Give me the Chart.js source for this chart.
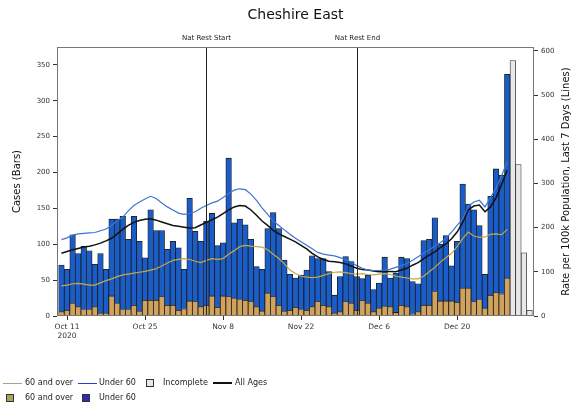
<!DOCTYPE html>
<html>
<head>
<meta charset="utf-8">
<script src="https://cdn.jsdelivr.net/npm/chart.js@4.4.1/dist/chart.umd.min.js"></script>
<style>
html,body{margin:0;padding:0;background:#fff;}
#wrap{position:relative;width:573px;height:408px;overflow:hidden;}
#c{position:absolute;left:0;top:0;}
.lt{position:absolute;font:8px "DejaVu Sans",sans-serif;color:#222;white-space:nowrap;line-height:10px;}
.ll{position:absolute;height:0;}
.lb{position:absolute;box-sizing:border-box;border:1px solid #333;}
</style>
</head>
<body>
<div id="wrap">
<canvas id="c" width="573" height="408"></canvas>
<div class="ll" style="left:3px;top:383px;width:19px;border-top:1px solid #a8a08a;"></div>
<div class="lt" style="left:25px;top:378px;">60 and over</div>
<div class="ll" style="left:78px;top:383px;width:19px;border-top:1px solid #2a3cd8;"></div>
<div class="lt" style="left:99px;top:378px;">Under 60</div>
<div class="lb" style="left:146px;top:379px;width:8px;height:8px;background:#e8e8e8;"></div>
<div class="lt" style="left:163px;top:378px;">Incomplete</div>
<div class="ll" style="left:213px;top:382px;width:19px;border-top:2px solid #111;"></div>
<div class="lt" style="left:235px;top:378px;">All Ages</div>
<div class="lb" style="left:6px;top:394px;width:8px;height:8px;background:#a9a65c;"></div>
<div class="lt" style="left:25px;top:393px;">60 and over</div>
<div class="lb" style="left:82px;top:394px;width:8px;height:8px;background:#2c2cb4;"></div>
<div class="lt" style="left:99px;top:393px;">Under 60</div>
</div>
<script>
// ---- categories (complete days) ----
const dates = [
"2020-10-10","2020-10-11","2020-10-12","2020-10-13","2020-10-14","2020-10-15","2020-10-16","2020-10-17","2020-10-18","2020-10-19",
"2020-10-20","2020-10-21","2020-10-22","2020-10-23","2020-10-24","2020-10-25","2020-10-26","2020-10-27","2020-10-28","2020-10-29",
"2020-10-30","2020-10-31","2020-11-01","2020-11-02","2020-11-03","2020-11-04","2020-11-05","2020-11-06","2020-11-07","2020-11-08",
"2020-11-09","2020-11-10","2020-11-11","2020-11-12","2020-11-13","2020-11-14","2020-11-15","2020-11-16","2020-11-17","2020-11-18",
"2020-11-19","2020-11-20","2020-11-21","2020-11-22","2020-11-23","2020-11-24","2020-11-25","2020-11-26","2020-11-27","2020-11-28",
"2020-11-29","2020-11-30","2020-12-01","2020-12-02","2020-12-03","2020-12-04","2020-12-05","2020-12-06","2020-12-07","2020-12-08",
"2020-12-09","2020-12-10","2020-12-11","2020-12-12","2020-12-13","2020-12-14","2020-12-15","2020-12-16","2020-12-17","2020-12-18",
"2020-12-19","2020-12-20","2020-12-21","2020-12-22","2020-12-23","2020-12-24","2020-12-25","2020-12-26","2020-12-27","2020-12-28",
"2020-12-29"];
const incompleteDates = ["2020-12-30","2020-12-31","2021-01-01","2021-01-02"];

// ---- bar series (cases) ----
const casesOver60 = [
6,8,18,13,9,9,13,4,4,28,
18,9,9,15,7,22,22,22,27,15,
15,8,10,21,20,13,15,28,12,28,
27,25,23,22,20,13,7,32,27,15,
7,8,12,9,8,13,20,15,13,4,
6,20,18,8,22,18,6,11,14,13,
5,15,13,3,6,15,15,34,21,21,
21,19,39,39,20,23,11,29,33,31,
53];
const casesUnder60 = [
65,57,95,74,88,82,59,83,61,107,
117,130,98,124,97,59,126,97,92,78,
89,87,55,143,98,91,117,115,86,74,
193,105,112,105,87,56,58,90,117,107,
71,50,41,48,56,71,60,65,49,25,
49,63,58,47,30,39,31,35,68,40,
55,67,67,45,39,90,92,103,79,91,
49,85,145,117,128,103,47,138,172,165,
284];
const casesIncomplete = [356,211,88,8];

// ---- line series (rate per 100k, last 7 days) ----
const rateOver60 = [
68,70,73,74,72,70,70,75,80,84,
89,93,95,97,99,101,104,107,113,120,
126,128,130,128,124,121,126,130,128,130,
140,148,157,160,158,157,156,150,140,130,
118,104,96,90,88,87,88,92,96,99,
100,98,96,95,96,94,93,95,96,94,
90,88,86,84,84,90,100,110,122,132,
142,157,175,190,181,178,179,185,186,184,
196];
const rateUnder60 = [
173,177,183,186,187,188,189,193,197,205,
215,224,238,250,258,265,271,266,256,247,
240,233,230,232,236,244,250,256,260,268,
278,285,288,286,276,262,245,230,215,205,
195,185,176,168,160,152,144,140,138,136,
132,128,122,114,108,104,103,103,104,106,
110,114,119,126,134,142,150,158,166,176,
190,205,220,248,258,262,247,268,290,318,
350];
const rateAllAges = [
142,146,150,153,156,158,161,165,170,176,
186,196,205,212,216,219,220,217,213,209,
205,203,201,199,200,206,212,218,224,232,
240,247,250,249,240,228,215,205,194,186,
180,174,168,160,152,142,134,128,124,123,
121,118,113,108,105,104,102,100,101,101,
100,104,108,115,121,130,138,145,155,163,
175,190,212,240,249,251,236,247,268,298,
330];

// ---- ticks / annotations ----
const tickDates = ["2020-10-11","2020-10-25","2020-11-08","2020-11-22","2020-12-06","2020-12-20"];
const tickLabels = [["Oct 11","2020"],"Oct 25","Nov 8","Nov 22","Dec 6","Dec 20"];
const restrictionDates = ["2020-11-05","2020-12-02"];
const restrictionLabels = ["Nat Rest Start","Nat Rest End"];
const leftTicks = [0,50,100,150,200,250,300,350];
const rightTicks = [0,100,200,300,400,500,600];

const DAY0 = Date.UTC(2020,9,11);
function dayOf(iso){const p=iso.split('-').map(Number);return (Date.UTC(p[0],p[1]-1,p[2])-DAY0)/86400000;}
const pts = (ds, vals) => vals.map((v,i)=>({x:dayOf(ds[i]), y:v}));

const FONT = '"DejaVu Sans", sans-serif';

const overlay = {
  id:'overlay',
  afterDatasetsDraw(chart){
    const ctx = chart.ctx, a = chart.chartArea, xs = chart.scales.x;
    ctx.save();
    ctx.strokeStyle = '#222'; ctx.lineWidth = 1;
    ctx.fillStyle = '#222';
    ctx.font = '7px ' + FONT; ctx.textAlign = 'center'; ctx.textBaseline = 'middle';
    restrictionDates.forEach((d,k)=>{
      const px = Math.round(xs.getPixelForValue(dayOf(d))) + 0.5;
      ctx.beginPath(); ctx.moveTo(px, a.top); ctx.lineTo(px, a.bottom); ctx.stroke();
      ctx.fillText(restrictionLabels[k], px, a.top - 9);
    });
    ctx.strokeStyle = '#777';
    ctx.strokeRect(a.left + 0.5, a.top + 0.5, a.right - a.left - 1, a.bottom - a.top - 1);
    ctx.fillStyle = '#111';
    ctx.font = '14px ' + FONT;
    ctx.fillText('Cheshire East', (a.left + a.right) / 2, 15);
    ctx.font = '10px ' + FONT;
    const cy = (a.top + a.bottom) / 2;
    ctx.save(); ctx.translate(17, cy); ctx.rotate(-Math.PI/2); ctx.fillText('Cases (Bars)', 0, 0); ctx.restore();
    ctx.save(); ctx.translate(566, cy); ctx.rotate(-Math.PI/2); ctx.fillText('Rate per 100k Population, Last 7 Days (Lines)', 0, 0); ctx.restore();
    ctx.restore();
  }
};

const barCommon = {type:'bar', yAxisID:'y', stack:'cases', order:2,
  barPercentage:1, categoryPercentage:1, borderColor:'#1a1a1a', borderWidth:0.8};
const lineCommon = {type:'line', yAxisID:'y1', order:0, pointRadius:0, fill:false, tension:0};

new Chart(document.getElementById('c'), {
  data:{
    datasets:[
      Object.assign({label:'60 and over', data:pts(dates, casesOver60), backgroundColor:'#d1a25b'}, barCommon),
      Object.assign({label:'Under 60', data:pts(dates, casesUnder60), backgroundColor:'#1a5cc8'}, barCommon),
      Object.assign({label:'Incomplete', data:pts(incompleteDates, casesIncomplete), backgroundColor:'#e8e8e8'}, barCommon, {borderColor:'#333'}),
      Object.assign({label:'60 and over rate', data:pts(dates, rateOver60), borderColor:'#c6a843', borderWidth:1.2}, lineCommon),
      Object.assign({label:'Under 60 rate', data:pts(dates, rateUnder60), borderColor:'#3f74d6', borderWidth:1.2}, lineCommon),
      Object.assign({label:'All Ages', data:pts(dates, rateAllAges), borderColor:'#111', borderWidth:1.5}, lineCommon)
    ]
  },
  options:{
    responsive:false, animation:false, devicePixelRatio:1,
    layout:{padding:{left:0,right:0,top:47,bottom:50}},
    plugins:{legend:{display:false}, tooltip:{enabled:false}, title:{display:false}},
    scales:{
      x:{type:'linear', stacked:true, offset:false, min:-1.8, max:83.8,
        afterFit:(s)=>{s.height=42;},
        afterBuildTicks:(s)=>{s.ticks = tickDates.map(d=>({value:dayOf(d)}));},
        ticks:{autoSkip:false, maxRotation:0, padding:3, color:'#333', font:{family:FONT,size:7.5},
          callback:(v)=>{const k=tickDates.findIndex(d=>dayOf(d)===v);return k>=0?tickLabels[k]:'';}},
        grid:{display:true, drawOnChartArea:false, offset:false, tickLength:4, color:'#333'},
        border:{display:false}
      },
      y:{type:'linear', position:'left', stacked:true, min:0, max:375,
        afterFit:(s)=>{s.width=57;},
        afterBuildTicks:(s)=>{s.ticks = leftTicks.map(v=>({value:v}));},
        ticks:{padding:3, color:'#333', font:{family:FONT,size:7}},
        grid:{drawOnChartArea:false, tickLength:4, color:'#333'},
        border:{display:false}
      },
      y1:{type:'linear', position:'right', stacked:false, min:0, max:609,
        afterFit:(s)=>{s.width=39;},
        afterBuildTicks:(s)=>{s.ticks = rightTicks.map(v=>({value:v}));},
        ticks:{padding:3, color:'#333', font:{family:FONT,size:7}},
        grid:{drawOnChartArea:false, tickLength:4, color:'#333'},
        border:{display:false}
      }
    }
  },
  plugins:[overlay]
});
</script>
</body>
</html>
